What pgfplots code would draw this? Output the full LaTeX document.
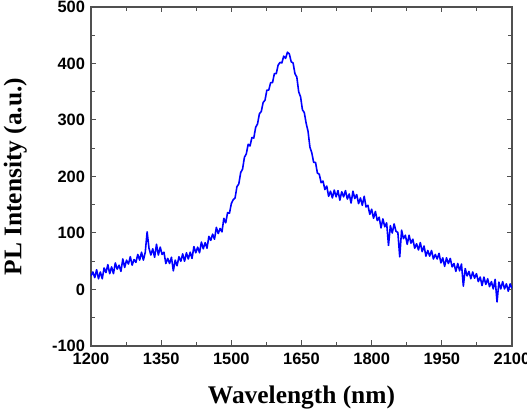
\documentclass[border=0pt]{standalone}
\usepackage{fontspec}
\setmainfont{Liberation Sans}
\newfontfamily\timesf{Liberation Serif}
\usepackage{pgfplots}
\pgfplotsset{compat=1.18}
\definecolor{axgray}{RGB}{80,80,80}
\begin{document}
\begin{tikzpicture}
\begin{axis}[
  scale only axis,
  width=421bp, height=339bp,
  xmin=1200, xmax=2100, ymin=-100, ymax=500,
  xtick={1200,1350,...,2100},
  ytick={-100,0,...,500},
  minor x tick num=1, minor y tick num=1,
  tick align=inside,
  major tick length=5.5bp, minor tick length=4bp,
  axis line style={axgray, line width=1.2pt},
  every tick/.style={draw=axgray, line width=1pt},
  /pgf/number format/assume math mode=true,
  /pgf/number format/1000 sep={},
  ticklabel style={font=\fontsize{16.5}{16.5}\selectfont\bfseries},
  xticklabel style={yshift=-3.5bp},
  yticklabel style={xshift=-2.5bp},
  xlabel={Wavelength (nm)},
  ylabel={PL Intensity (a.u.)},
  label style={font=\timesf\fontsize{25.5}{26}\selectfont\bfseries},
  xlabel style={at={(axis description cs:0.5,-0.171)}, anchor=base},
  ylabel style={at={(axis description cs:-0.18,0.5)}, anchor=center, rotate=0},
]
\addplot[color={rgb,255:red,0;green,0;blue,255}, line width=1.6pt, line join=round] coordinates {
(1200,24)(1204,31)(1208,21)(1212,35)(1216,19)(1220,31)(1224,19)(1228,38)(1232,30)(1236,44)
(1240,28)(1244,40)(1248,28)(1252,47)(1256,36)(1260,43)(1264,32)(1268,54)(1272,39)(1276,52)
(1280,45)(1284,58)(1288,43)(1292,53)(1296,48)(1300,62)(1304,52)(1308,66)(1312,52)(1316,66)
(1320,102)(1324,73)(1328,61)(1332,72)(1336,57)(1340,80)(1344,61)(1348,75)(1352,62)(1356,66)
(1360,46)(1364,55)(1368,46)(1372,57)(1376,33)(1380,52)(1384,42)(1388,58)(1392,50)(1396,63)
(1400,50)(1404,65)(1408,54)(1412,66)(1416,55)(1420,76)(1424,65)(1428,75)(1432,65)(1436,84)
(1440,72)(1444,83)(1448,73)(1452,94)(1456,87)(1460,98)(1464,89)(1468,110)(1472,99)(1476,108)
(1480,102)(1484,126)(1488,118)(1492,136)(1496,135)(1500,152)(1504,159)(1508,162)(1512,182)(1516,187)
(1520,207)(1524,213)(1528,234)(1532,240)(1536,257)(1540,254)(1544,269)(1548,268)(1552,287)(1556,293)
(1560,311)(1564,315)(1568,331)(1572,335)(1576,353)(1580,353)(1584,366)(1588,366)(1592,382)(1596,382)
(1600,397)(1604,402)(1608,401)(1612,413)(1616,409)(1620,420)(1624,417)(1628,403)(1632,401)(1636,382)
(1640,376)(1644,350)(1648,341)(1652,318)(1656,313)(1660,294)(1664,280)(1668,252)(1672,242)(1676,225)
(1680,225)(1684,206)(1688,204)(1692,189)(1696,192)(1700,177)(1704,183)(1708,165)(1712,174)(1716,162)
(1720,176)(1724,164)(1728,175)(1732,158)(1736,173)(1740,164)(1744,175)(1748,160)(1752,169)(1756,153)
(1760,174)(1764,161)(1768,168)(1772,152)(1776,162)(1780,149)(1784,165)(1788,146)(1792,149)(1796,133)
(1800,142)(1804,126)(1808,138)(1812,122)(1816,128)(1820,109)(1824,125)(1828,111)(1832,118)(1836,78)
(1840,113)(1844,100)(1848,116)(1852,103)(1856,101)(1860,58)(1864,105)(1868,90)(1872,96)(1876,80)
(1880,96)(1884,82)(1888,89)(1892,73)(1896,81)(1900,70)(1904,83)(1908,67)(1912,77)(1916,59)
(1920,69)(1924,59)(1928,69)(1932,54)(1936,62)(1940,54)(1944,64)(1948,47)(1952,56)(1956,41)
(1960,56)(1964,46)(1968,55)(1972,40)(1976,46)(1980,32)(1984,46)(1988,33)(1992,45)(1996,6)
(2000,37)(2004,24)(2008,32)(2012,19)(2016,31)(2020,20)(2024,28)(2028,14)(2032,22)(2036,7)
(2040,22)(2044,9)(2048,19)(2052,5)(2056,14)(2060,1)(2064,18)(2068,-22)(2072,13)(2076,1)
(2080,14)(2084,1)(2088,10)(2092,-3)(2096,10)(2100,2)
};
\end{axis}
\pgfresetboundingbox
\path[use as bounding box] ([shift={(-91bp,-66bp)}]current axis.south west) rectangle ([shift={(15bp,7bp)}]current axis.north east);
\end{tikzpicture}
\end{document}
